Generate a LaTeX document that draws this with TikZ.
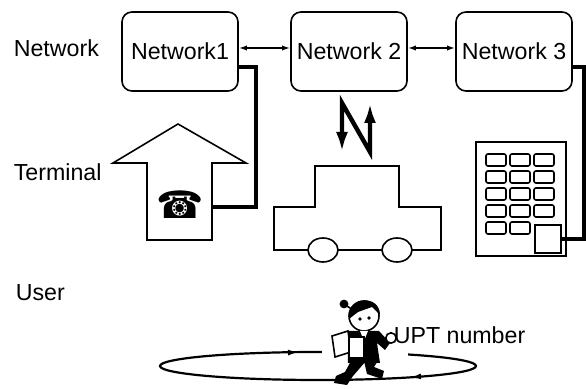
\documentclass[tikz,border=0pt]{standalone}
\usepackage{fontspec}
\setmainfont{Liberation Sans}
\newfontfamily\symb{DejaVu Sans}
\usetikzlibrary{arrows.meta}

\def\lbl{\fontsize{11.6}{14}\selectfont}
\def\pane#1#2{
	\draw[rounded corners=1pt] ({#1},{#2}) rectangle ++(20,12);
}

\tikzset{
	netbox/.style={draw,rounded corners=5pt,minimum width=58pt,minimum height=39.5pt,inner sep=0pt,font=\lbl},
	txt/.style={inner sep=0pt,anchor=west,font=\lbl},
	link/.style={line width=2pt},
}

\begin{document}
\begin{tikzpicture}[x=0.5pt,y=-0.5pt,line width=0.8pt,>={Latex[length=4pt,width=2.6pt]}]
\useasboundingbox (0,0) rectangle (586,389);

\node[txt] (lnet) at (13,48) {Network};
\node[txt] (lterm) at (13,172) {Terminal};
\node[txt] (luser) at (15,293) {User};

\node[netbox] (net1) at (180,51.5) {Network1};
\node[netbox] (net2) at (349,51.5) {Network 2};
\node[netbox] (net3) at (514,51.5) {Network 3};
\draw[<->] ([yshift=1.75pt]net1.east) -- ([yshift=1.75pt]net2.west);
\draw[<->] ([yshift=1.75pt]net2.east) -- ([yshift=1.75pt]net3.west);

% terminal arrow with phone
\draw (147,240) -- (147,163) -- (113,163) -- (178,124) -- (246,163)
	-- (212,163) -- (212,240) -- cycle;
\node[font=\symb\fontsize{19}{19}\selectfont,inner sep=0pt] (phone) at (180,205) {☎};
\coordinate (term) at (212,207);
\draw[link] ([yshift=-8pt]net1.east) -- ++(17,0) |- (term);

% radio link and car
\draw[line width=2.2pt,{Latex[length=10pt,width=6pt]}-{Latex[length=10pt,width=6pt]}]
	(342,152) -- (342,103) -- (370,152) -- (370,103);
\draw (274,250) -- (274,207) -- (315,207) -- (315,166) -- (399,166)
	-- (399,207) -- (441,207) -- (441,250) -- cycle;
\draw[fill=white] (323,250) ellipse[x radius=7.5pt,y radius=6pt];
\draw[fill=white] (397,250) ellipse[x radius=7.5pt,y radius=6pt];

% building
\draw (476,142) rectangle (566,256);
\foreach \r in {0,...,3}{
	\foreach \c in {0,1,2}{
		\pane{486+24*\c}{154+17*\r}
	}
}
\pane{486}{222}
\pane{510}{222}
\node[draw,inner sep=0pt,minimum width=13pt,minimum height=14pt] (door) at (548,239) {};
\draw[link] ([yshift=-8pt]net3.east) -- ++(11,0) |- (door.east);

% user moving around
\draw[line width=1.1pt] (318,366) ellipse[x radius=79pt,y radius=7pt];
\draw[-{Latex[length=5pt,width=3pt]}] (288,352.6) -- (298,352.1);
\draw[-{Latex[length=5pt,width=3pt]}] (421,376.4) -- (411,377.4);
\fill[white] (322,344) rectangle (408,360);

\draw[fill=white] (364,316) circle[radius=7.5pt];
\fill (349,319) .. controls (347,296) and (380,294) .. (380,315) -- (372,307) -- (358,312) -- cycle;
\draw (344,304) -- (353,310);
\fill (344,304) circle[radius=2.2pt];
\fill (360,319) circle[radius=0.9pt];
\fill (369,318) circle[radius=0.9pt];
\fill (348,331) -- (379,331) -- (390,343) -- (385,350) -- (377,343)
	-- (380,363) -- (348,363) -- cycle;
\fill[white] (360,331) -- (368,331) -- (364,341) -- cycle;
\draw[fill=white] (391,338) circle[radius=2.6pt];
\draw[fill=white] (332,336) -- (348,331) -- (351,352) -- (335,357) -- cycle;
\draw[fill=white] (349,337) rectangle (364,358);
\fill (351,361) -- (366,361) -- (353,376) -- (347,385) -- (334,383)
	-- (336,376) -- (345,372) -- cycle;
\fill (364,361) -- (378,361) -- (374,367) -- (384,371) -- (382,379)
	-- (367,374) -- cycle;
\node[txt] (upt) at (393,335) {UPT number};
\end{tikzpicture}
\end{document}
